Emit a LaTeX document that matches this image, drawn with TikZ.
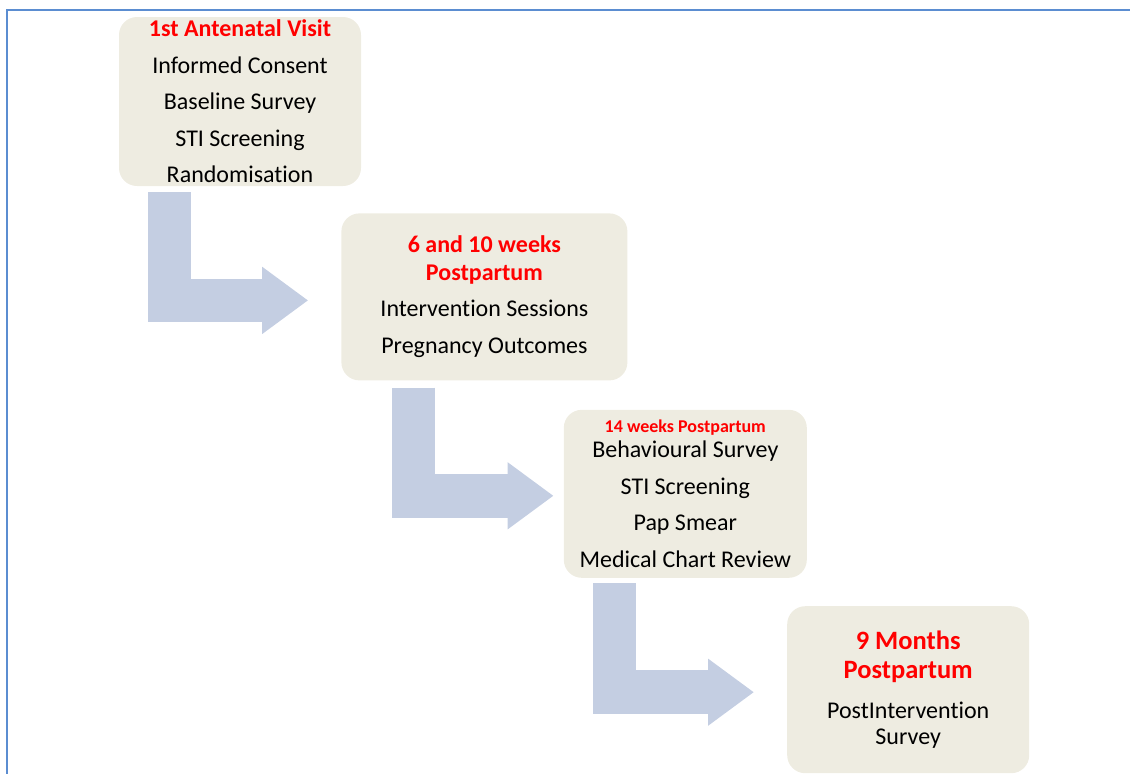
\documentclass[tikz,border=0pt]{standalone}
\usepackage{fontspec}
\setmainfont{Carlito}[Ligatures=CommonOff]
\usetikzlibrary{arrows.meta, positioning}
\definecolor{stagefill}{HTML}{EEECE1}
\definecolor{flowblue}{RGB}{196,206,226}
\definecolor{frameblue}{RGB}{91,141,209}
\definecolor{hdred}{RGB}{255,0,0}
\tikzset{stage/.style={rectangle,fill=stagefill,rounded corners=18pt,align=center,inner sep=0pt,minimum width=242pt,minimum height=168pt,font=\fontsize{24}{28.8}\selectfont},flow/.style={draw=flowblue,line width=43.5pt,line join=miter,-{Triangle[width=64pt,length=46pt]}}}
\newcommand{\hd}[1]{\textcolor{hdred}{\bfseries #1}}

\begin{document}
\begin{tikzpicture}[x=1pt,y=-1pt]
\useasboundingbox (0,0) rectangle (1130,774);
\draw[frameblue,line width=2pt] (1130,10) -| (7,774);
\node[stage, minimum height=169pt] (anc) at (240,101.5) {\hd{1st Antenatal Visit}\\[8pt] Informed Consent\\[7.7pt] Baseline Survey\\[7.7pt] STI Screening\\[7.7pt] Randomisation};
\node[stage, minimum width=286pt, minimum height=167pt, below right=27pt and -20pt of anc] (pp6) {\hd{6 and 10 weeks}\\[-1pt] \hd{Postpartum}\\[7.2pt] Intervention Sessions\\[8.2pt] Pregnancy Outcomes};
\node[stage, minimum width=243pt, below right=29pt and -64pt of pp6] (pp14) {\hd{\fontsize{18}{20}\selectfont 14 weeks Postpartum}\\[-4pt] Behavioural Survey\\[7.7pt] STI Screening\\[7.7pt] Pap Smear\\[7.7pt] Medical Chart Review};
\node[stage, minimum height=167pt, font=\fontsize{24}{26}\selectfont, below right=28pt and -20pt of pp14] (pp9) {\hd{\fontsize{26.5}{29}\selectfont 9 Months}\\[3pt] \hd{\fontsize{26.5}{29}\selectfont Postpartum}\\[13.4pt] PostIntervention\\ Survey};
\draw[flow] ([xshift=50.5pt,yshift=-6pt]anc.south west) |- ([xshift=-33pt,yshift=-3.5pt]pp6.west);
\draw[flow] ([xshift=72.5pt,yshift=-7pt]pp6.south west) |- ([xshift=-10pt,yshift=-2pt]pp14.west);
\draw[flow] ([xshift=51pt,yshift=-5pt]pp14.south west) |- ([xshift=-33pt,yshift=-2.5pt]pp9.west);
\end{tikzpicture}
\end{document}
